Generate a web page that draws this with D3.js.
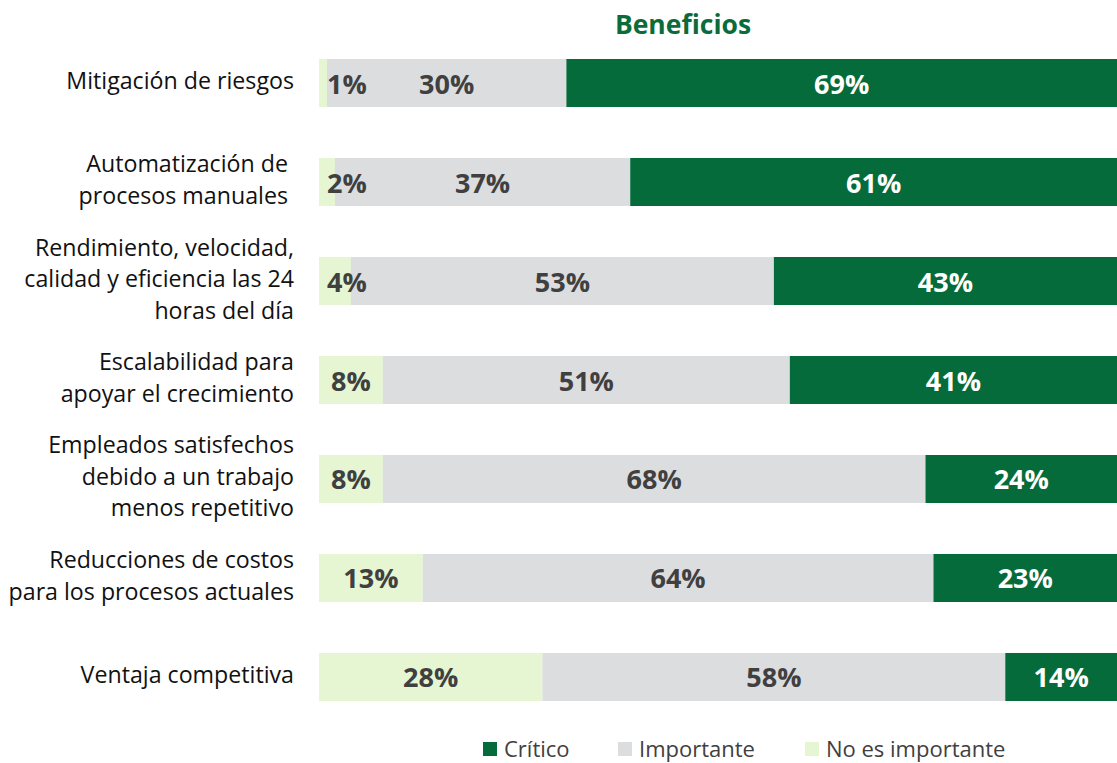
<!DOCTYPE html>
<html><head><meta charset="utf-8">
<script src="https://cdn.jsdelivr.net/npm/d3@7"></script>
<style>
html,body{margin:0;padding:0;background:#fff;}
svg text{font-family:"Open Sans",sans-serif;}
</style></head>
<body><svg id="c" width="1117" height="763"></svg>
<script>
const categories = [
  ["Mitigación de riesgos"],
  ["Automatización de ", "procesos manuales "],
  ["Rendimiento, velocidad,", "calidad y eficiencia las 24", "horas del día"],
  ["Escalabilidad para", "apoyar el crecimiento"],
  ["Empleados satisfechos", "debido a un trabajo", "menos repetitivo"],
  ["Reducciones de costos", "para los procesos actuales"],
  ["Ventaja competitiva"]
];
const noImportante = [1, 2, 4, 8, 8, 13, 28];
const importante   = [30, 37, 53, 51, 68, 64, 58];
const critico      = [69, 61, 43, 41, 24, 23, 14];
const seriesNames  = ["No es importante", "Importante", "Crítico"];
const legendOrder  = ["Crítico", "Importante", "No es importante"];
const colors = {"No es importante":"#E6F5D2","Importante":"#DCDDDF","Crítico":"#066B3A"};
const labelColors = {"No es importante":"#404040","Importante":"#404040","Crítico":"#FFFFFF"};
const title = "Beneficios";

const svg = d3.select("#c");
const x = d3.scaleLinear().domain([0,100]).range([319,1117]);
const y = d3.scaleBand().domain(d3.range(categories.length)).range([59,701]).paddingInner(0.515).paddingOuter(0);

const rows = categories.map((c,i)=>({i, vals:[noImportante[i], importante[i], critico[i]]}));
const stackData = rows.map(r=>{
  let acc=0; return r.vals.map((v,k)=>{const s={i:r.i,k,v,x0:acc,x1:acc+v}; acc+=v; return s;});
}).flat();

svg.append("text").attr("x",683).attr("y",24).attr("text-anchor","middle")
  .attr("dominant-baseline","central").attr("font-weight","bold").attr("font-size",26.5)
  .attr("fill","#0B6B3A").text(title);

svg.append("g").selectAll("rect").data(stackData).join("rect")
  .attr("x",d=>x(d.x0)).attr("width",d=>x(d.x1)-x(d.x0))
  .attr("y",d=>y(d.i)).attr("height",y.bandwidth())
  .attr("fill",d=>colors[seriesNames[d.k]]);

svg.append("g").selectAll("text").data(stackData).join("text")
  .attr("x",d=>{const c=(x(d.x0)+x(d.x1))/2; return d.k===0?Math.max(c,x(0)+28):c;})
  .attr("y",d=>y(d.i)+y.bandwidth()/2)
  .attr("text-anchor","middle").attr("dominant-baseline","central")
  .attr("font-weight","bold").attr("font-size",27)
  .attr("fill",d=>labelColors[seriesNames[d.k]])
  .text(d=>d.v+"%");

const lh = 31.5;
const cat = svg.append("g").selectAll("text").data(categories).join("text")
  .attr("text-anchor","end").attr("font-size",23.2).attr("fill","#111")
  .style("white-space","pre");
cat.each(function(lines,i){
  const cy = y(i)+y.bandwidth()/2 - 3;
  const t = d3.select(this);
  lines.forEach((l,j)=>{
    t.append("tspan").attr("x",294).attr("y",cy+(j-(lines.length-1)/2)*lh)
      .attr("dominant-baseline","central").text(l);
  });
});

const legX = {"Crítico":483,"Importante":618,"No es importante":805};
const lg = svg.append("g").selectAll("g").data(legendOrder).join("g")
  .attr("transform",d=>`translate(${legX[d]},742)`);
lg.append("rect").attr("width",14).attr("height",14).attr("fill",d=>colors[d]);
lg.append("text").attr("x",21).attr("y",6).attr("dominant-baseline","central")
  .attr("font-size",22).attr("fill","#404040").text(d=>d);
</script></body></html>
